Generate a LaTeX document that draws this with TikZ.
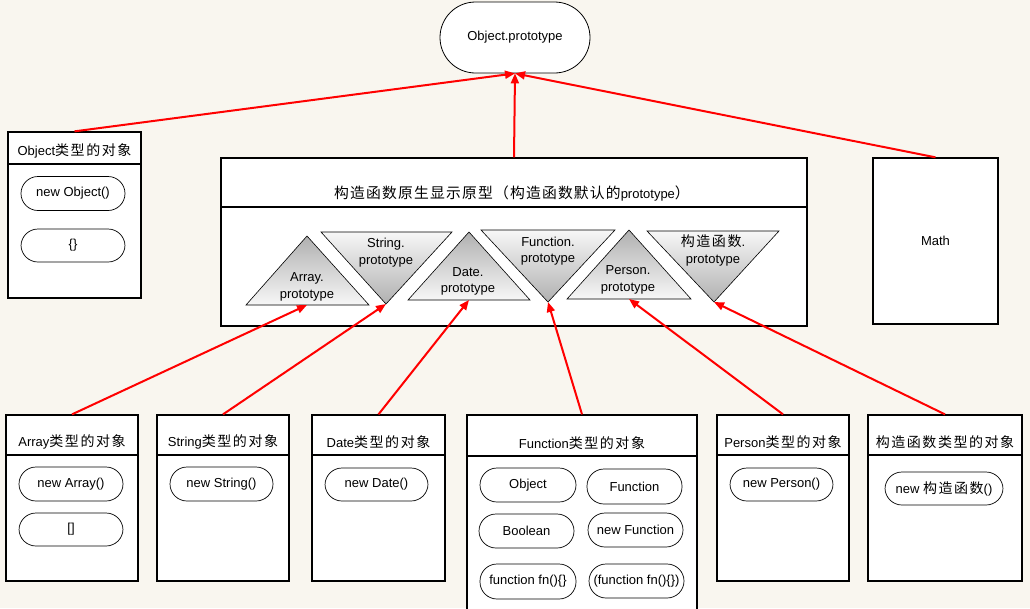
\documentclass[tikz,border=0pt]{standalone}
\usepackage{fontspec}
\setmainfont{Liberation Sans}
\newfontfamily\cjk[LetterSpace=11]{Noto Sans CJK SC}
\newfontfamily\cjkt[LetterSpace=8]{Noto Sans CJK SC}
\usetikzlibrary{arrows.meta}
\definecolor{bg}{RGB}{249,246,239}
\definecolor{tridark}{RGB}{176,176,176}
\definecolor{trilight}{RGB}{247,247,247}
\newcommand{\zh}[1]{{\fontsize{14}{16}\cjk #1}}
\newcommand{\zht}[1]{{\fontsize{14.8}{16}\cjkt #1}}
\begin{document}
\begin{tikzpicture}[x=1pt,y=-1pt,
  box/.style={draw=black,line width=1.3pt,fill=white,inner sep=0pt},
  hdr/.style={font=\fontsize{13}{14}\selectfont,inner sep=0pt},
  pill/.style={draw=black,line width=0.7pt,fill=white,inner sep=0pt,rounded corners=17pt,font=\fontsize{13}{14}\selectfont},
  conn/.style={draw=red,line width=2pt,-{Triangle[length=10pt,width=8pt]}},
  triup/.style={top color=tridark,bottom color=trilight,draw=black,line width=0.6pt},
  tridown/.style={top color=trilight,bottom color=tridark,draw=black,line width=0.6pt},
  trilabel/.style={align=center,font=\fontsize{13}{16.5}\selectfont,inner sep=0pt}]
\useasboundingbox (0,0) rectangle (1030,608);
\clip (0,0) rectangle (1030,608);
\fill[bg] (0,0) rectangle (1030,608);

% top node
\node[draw=black,line width=0.8pt,fill=white,rounded corners=35.5pt,minimum width=150pt,minimum height=71pt,inner sep=0pt,font=\fontsize{13}{14}\selectfont] (op) at (515,37.5) {Object.prototype};

% Object box
\node[box,minimum width=133pt,minimum height=166pt] (objbox) at (74.5,215) {};
\draw[line width=1.3pt] (objbox.west |- 0,164) -- (objbox.east |- 0,164);
\node[hdr] (objhdr) at (74.5,151) {Object\zh{类型的对象}};
\node[pill,minimum width=104pt,minimum height=34pt] (newobj) at (73,193.5) {new Object()};
\node[pill,minimum width=104pt,minimum height=33pt] (objlit) at (73,245.5) {\{\}};

% Math box
\node[box,minimum width=125pt,minimum height=166pt,font=\fontsize{13}{14}\selectfont] (math) at (935.5,241) {Math};

% big box
\node[box,minimum width=586pt,minimum height=168pt] (big) at (514,242) {};
\draw[line width=1.3pt] (big.west |- 0,207) -- (big.east |- 0,207);
\node[inner sep=0pt,font=\fontsize{13}{14}\selectfont] (bigtitle) at (512,194) {\zht{构造函数原生显示原型（构造函数默认的}prototype\zht{）}};

% triangles
\shadedraw[triup] (246,305) -- (307,236) -- (369,305) -- cycle;
\coordinate (tArr) at (307,305);
\node[trilabel] (lArr) at (307,287) {Array.\\prototype};
\shadedraw[tridown] (321,232) -- (452,232) -- (386,304) -- cycle;
\coordinate (tStr) at (386,304);
\node[trilabel] (lStr) at (386,252.5) {String.\\prototype};
\shadedraw[triup] (408,300) -- (469,232) -- (530,300) -- cycle;
\coordinate (tDate) at (469,300);
\node[trilabel] (lDate) at (468,281.5) {Date.\\prototype};
\shadedraw[tridown] (481,230) -- (615,230) -- (548,302) -- cycle;
\coordinate (tFun) at (548,302);
\node[trilabel] (lFun) at (548,251) {Function.\\prototype};
\shadedraw[triup] (567,299) -- (629,230) -- (691,299) -- cycle;
\coordinate (tPer) at (629,299);
\node[trilabel] (lPer) at (628,280) {Person.\\prototype};
\shadedraw[tridown] (647,231) -- (779,231) -- (714,302) -- cycle;
\coordinate (tCon) at (714,302);
\node[trilabel] (lCon) at (713,250.5) {\zh{构造函数}.\\prototype};

% bottom boxes
\node[box,minimum width=132pt,minimum height=166pt] (arrbox) at (72,498) {};
\draw[line width=1.3pt] (arrbox.west |- 0,455) -- (arrbox.east |- 0,455);
\node[hdr] (arrhdr) at (72,442) {Array\zh{类型的对象}};
\node[pill,minimum width=104pt,minimum height=34pt] (newarr) at (71,484) {new Array()};
\node[pill,minimum width=104pt,minimum height=33pt] (arrlit) at (71,529.5) {[]};

\node[box,minimum width=132pt,minimum height=166pt] (strbox) at (223,498) {};
\draw[line width=1.3pt] (strbox.west |- 0,455) -- (strbox.east |- 0,455);
\node[hdr] (strhdr) at (223,442) {String\zh{类型的对象}};
\node[pill,minimum width=103pt,minimum height=34pt] (newstr) at (221.5,484) {new String()};

\node[box,minimum width=133pt,minimum height=166pt] (datebox) at (378.5,498) {};
\draw[line width=1.3pt] (datebox.west |- 0,455) -- (datebox.east |- 0,455);
\node[hdr] (datehdr) at (378.5,442) {Date\zh{类型的对象}};
\node[pill,minimum width=103pt,minimum height=33pt] (newdate) at (376.5,484.5) {new Date()};

\node[box,minimum width=230pt,minimum height=215pt] (funbox) at (582,522.5) {};
\draw[line width=1.3pt] (funbox.west |- 0,456) -- (funbox.east |- 0,456);
\node[hdr] (funhdr) at (582,443) {Function\zh{类型的对象}};
\node[pill,minimum width=96pt,minimum height=34pt] (fobj) at (528,485) {Object};
\node[pill,minimum width=95pt,minimum height=35pt] (ffun) at (634.5,486.5) {Function};
\node[pill,minimum width=95pt,minimum height=34pt] (fbool) at (526.5,531) {Boolean};
\node[pill,minimum width=95pt,minimum height=34pt] (fnew) at (635.5,530) {new Function};
\node[pill,minimum width=96pt,minimum height=35pt] (ffn) at (528,581.5) {function fn()\{\}};
\node[pill,minimum width=95pt,minimum height=34pt] (fiife) at (636.5,581) {(function fn()\{\})};

\node[box,minimum width=132pt,minimum height=166pt] (perbox) at (783,498) {};
\draw[line width=1.3pt] (perbox.west |- 0,455) -- (perbox.east |- 0,455);
\node[hdr] (perhdr) at (783,442) {Person\zh{类型的对象}};
\node[pill,minimum width=103pt,minimum height=33pt] (newper) at (781.5,484.5) {new Person()};

\node[box,minimum width=154pt,minimum height=166pt] (conbox) at (945,498) {};
\draw[line width=1.3pt] (conbox.west |- 0,455) -- (conbox.east |- 0,455);
\node[hdr] (conhdr) at (945,442) {\zh{构造函数类型的对象}};
\node[pill,minimum width=118pt,minimum height=33pt] (newcon) at (944,488.5) {new \zh{构造函数}()};

% connectors
\draw[conn] (objbox.north) -- (op.south);
\draw[conn] (big.north) -- (op.south);
\draw[conn] (math.north) -- (op.south);
\draw[conn] (arrbox.north) -- (tArr);
\draw[conn] (strbox.north) -- (tStr);
\draw[conn] (datebox.north) -- (tDate);
\draw[conn] (funbox.north) -- (tFun);
\draw[conn] (perbox.north) -- (tPer);
\draw[conn] (conbox.north) -- (tCon);
\end{tikzpicture}
\end{document}
